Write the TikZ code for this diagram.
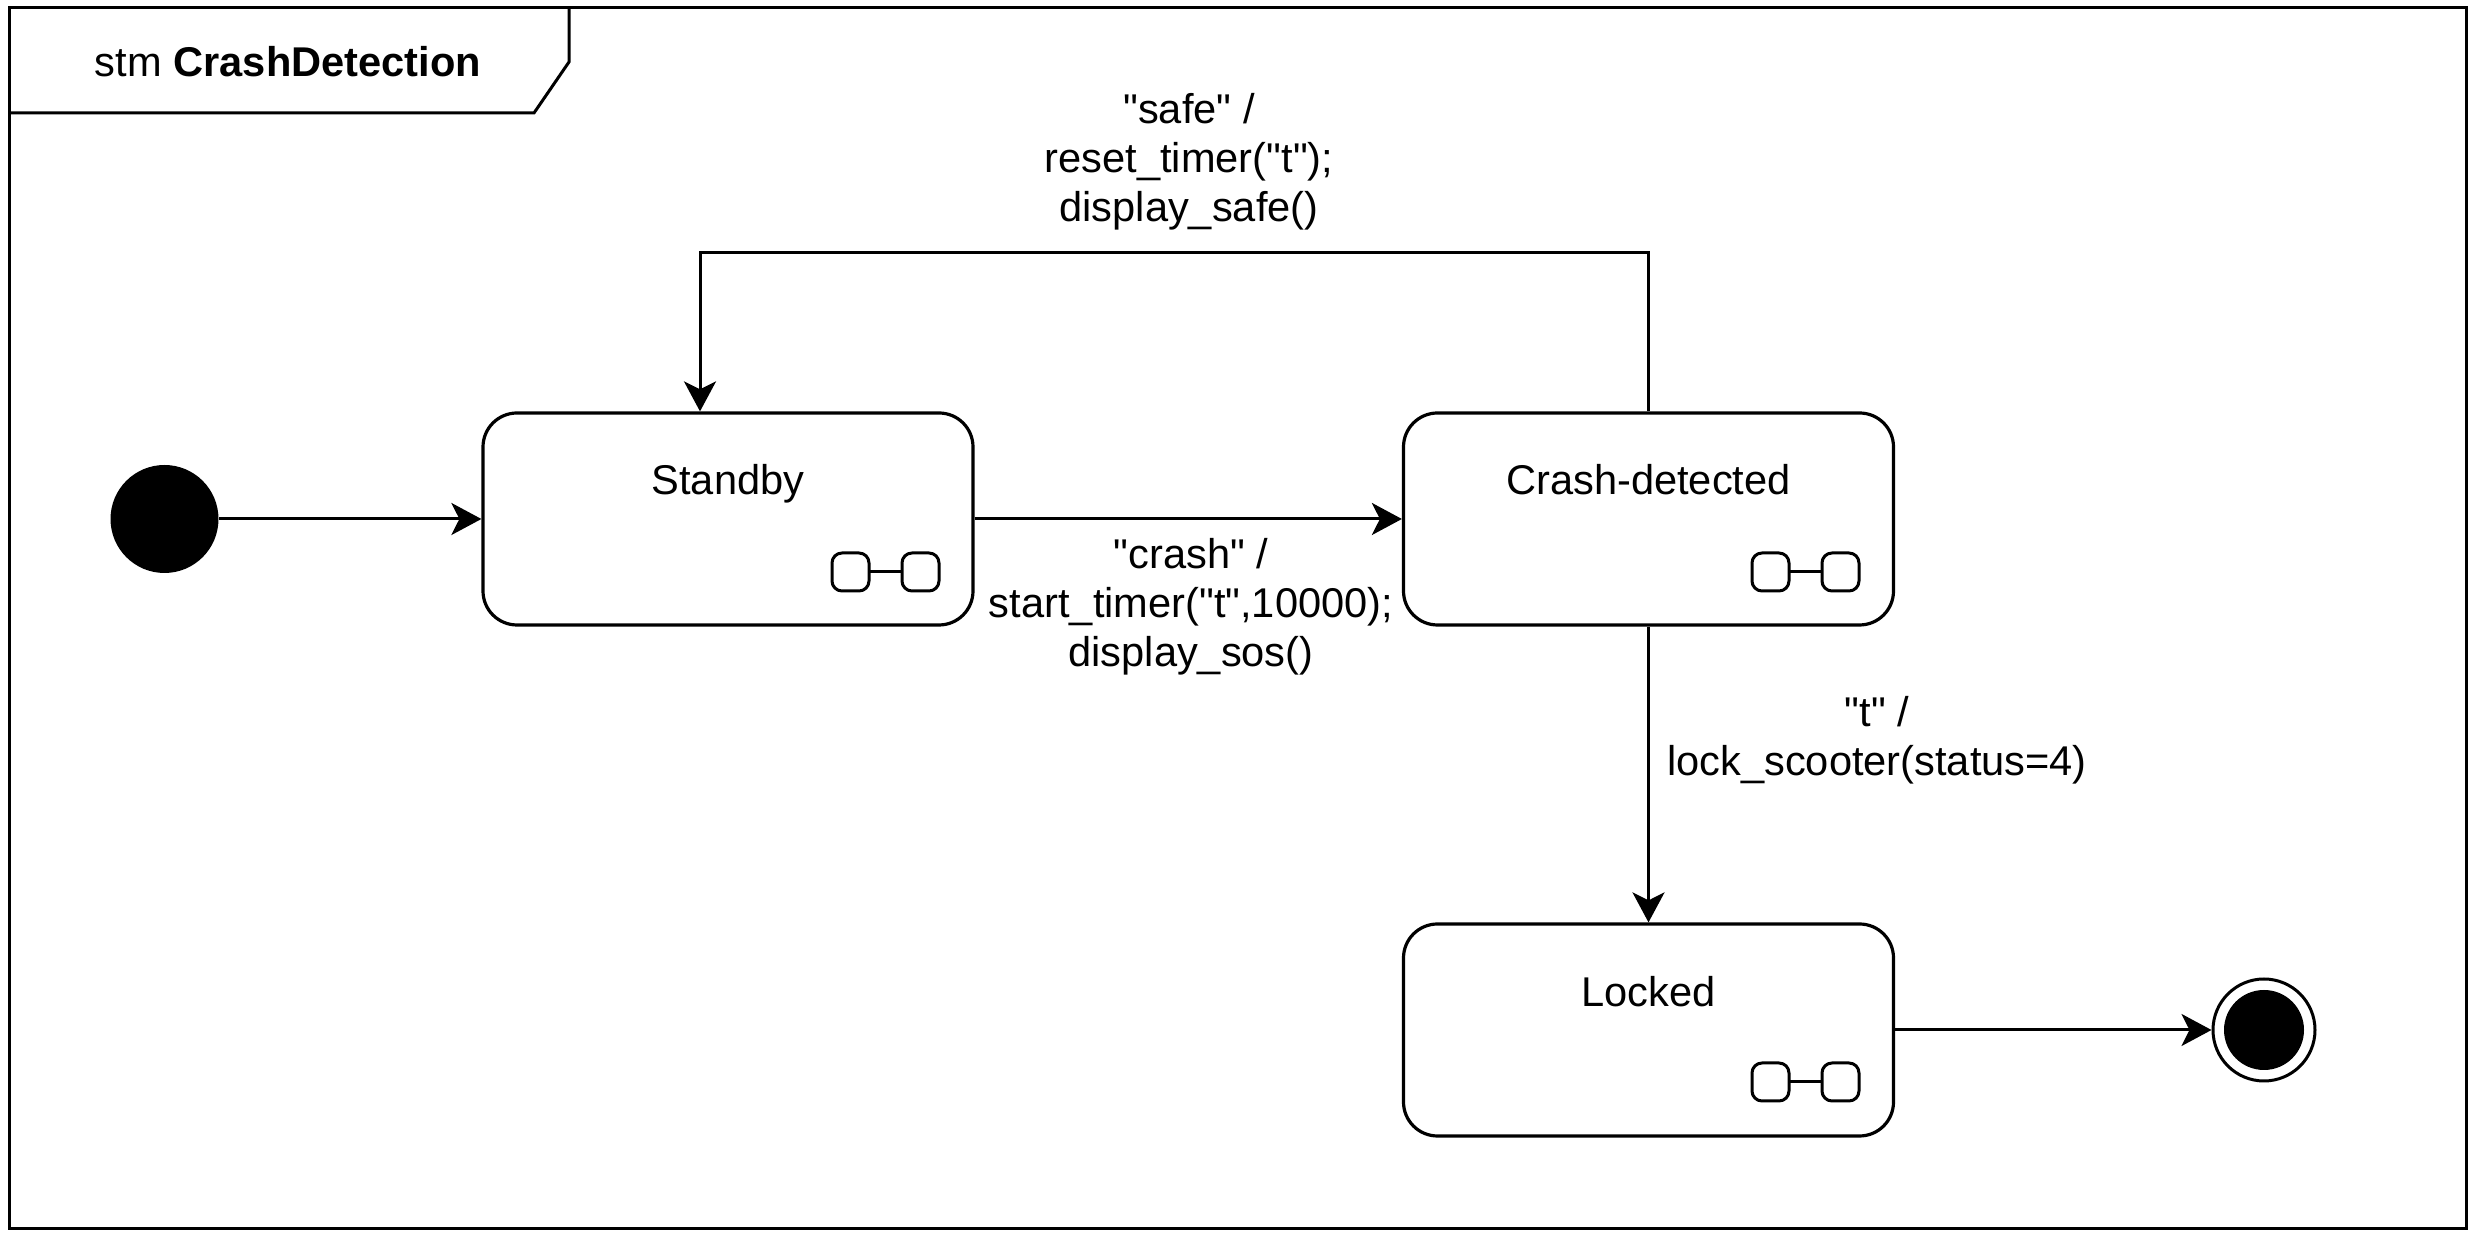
\documentclass[tikz,border=0pt]{standalone}
\usepackage{fontspec}
\setmainfont{Liberation Sans}[Ligatures=TeXOff]
\usetikzlibrary{arrows.meta}
\begin{document}
\begin{tikzpicture}[x=0.25pt,y=-0.25pt,
  every node/.style={font=\fontsize{10.4pt}{12.2pt}\selectfont},
  state/.style={draw, line width=0.8pt, rounded corners=8.5pt, minimum width=122.5pt, minimum height=53pt, inner sep=0pt},
  conn/.style={line width=0.75pt, -{Stealth[length=7.5pt,width=8pt,inset=2pt]}},
  lbl/.style={align=center, inner sep=0pt},
  subicon/.pic={
    \draw[line width=0.75pt, rounded corners=2.5pt] (-107,-19) rectangle (-70,19);
    \draw[line width=0.75pt, rounded corners=2.5pt] (-37,-19) rectangle (0,19);
    \draw[line width=0.75pt] (-70,0) -- (-37,0);
  }
]
\useasboundingbox (0,0) rectangle (2476,1238);
% frame
\draw[line width=0.75pt] (9,8) rectangle (2466,1229);
\draw[line width=0.75pt] (9,113) -- (534,113) -- (569,62) -- (569,8);
\node[anchor=base] (title) at (288,77) {stm \textbf{CrashDetection}};

% states
\node[circle, fill=black, minimum size=27pt, inner sep=0pt] (init) at (164.5,519) {};
\node[state] (sb) at (728,519) {};
\node[state] (cd) at (1648.5,519) {};
\node[state] (lk) at (1648.5,1030) {};
\node[circle, draw, line width=0.75pt, minimum size=25.5pt, inner sep=0pt] (fin) at (2264,1030) {};
\node[circle, fill=black, minimum size=20pt, inner sep=0pt] (finc) at (2264,1030) {};

\node[anchor=base] (sbt) at (728,495) {Standby};
\node[anchor=base] (cdt) at (1648.5,495) {Crash-detected};
\node[anchor=base] (lkt) at (1648.5,1007) {Locked};

\pic at (939,572) {subicon};
\pic at (1859,572) {subicon};
\pic at (1859,1082) {subicon};

% connectors
\draw[conn] (init) -- (sb);
\draw[conn] (sb) -- (cd);
\coordinate (s1) at (1648.5,253);
\coordinate (s2) at (700,253);
\draw[conn] (cd.north) -- (s1) -- (s2) -- (s2 |- sb.north);
\draw[conn] (cd) -- (lk);
\draw[conn] (lk) -- (fin);

% labels
\node[lbl] (lsafe) at (1189,162) {"safe" /\\reset\_timer("t");\\display\_safe()};
\node[lbl] (lcrash) at (1191,607) {"crash" /\\start\_timer("t",10000);\\display\_sos()};
\node[lbl] (lt) at (1877,740) {"t" /\\lock\_scooter(status=4)};
\end{tikzpicture}
\end{document}
